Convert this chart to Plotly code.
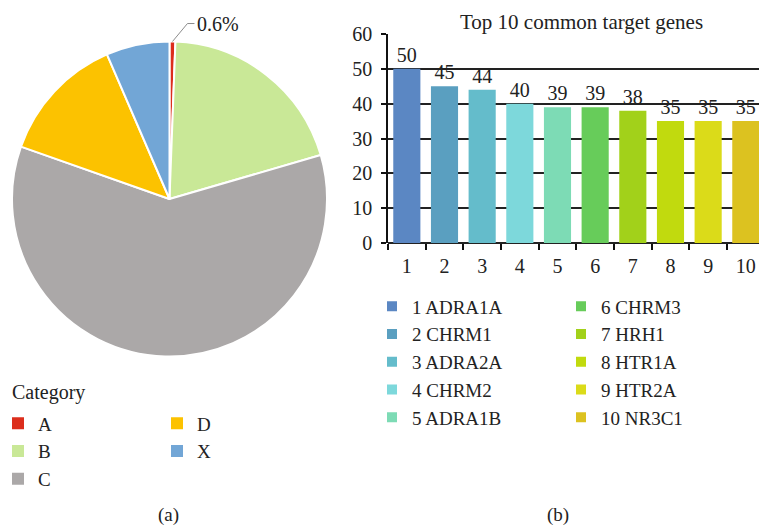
import math
import plotly.graph_objects as go

W, H = 759, 528


def X(px):  # page pixel -> paper fraction
    return px / W


def Y(py):
    return 1 - py / H


# ---- data ----
pie_labels = ["A", "B", "C", "D", "X"]
pie_values = [0.6, 19.9, 59.9, 13.1, 6.5]
pie_colors = ["#DC2E1C", "#C9E897", "#ABA8A8", "#FCC200", "#72A6D6"]

gene_ranks = ["1", "2", "3", "4", "5", "6", "7", "8", "9", "10"]
gene_names = ["ADRA1A", "CHRM1", "ADRA2A", "CHRM2", "ADRA1B",
              "CHRM3", "HRH1", "HTR1A", "HTR2A", "NR3C1"]
gene_counts = [50, 45, 44, 40, 39, 39, 38, 35, 35, 35]
gene_colors = ["#5B87C3", "#5A9FC0", "#64BCCB", "#7DD8DB", "#7DDBB5",
               "#67CC5A", "#A2D11A", "#C1DA0E", "#DBDB19", "#DCC220"]

FONT = "Liberation Serif"
TXT = "#222222"

fig = go.Figure()

# ---- pie ----
pie_px = dict(x0=12, x1=327, y0=41, y1=357)  # pixel box of pie
fig.add_trace(go.Pie(
    labels=pie_labels, values=pie_values, sort=False, direction="clockwise",
    rotation=0, marker=dict(colors=pie_colors, line=dict(color="white", width=2)),
    textinfo="none", showlegend=False, hoverinfo="label+percent",
    domain=dict(x=[X(pie_px["x0"]), X(pie_px["x1"])],
                y=[Y(pie_px["y1"]), Y(pie_px["y0"])]),
))

# label for the smallest slice with leader line
tot = sum(pie_values)
theta = (pie_values[0] / tot / 2) * 2 * math.pi
cx = (pie_px["x0"] + pie_px["x1"]) / 2
cy = (pie_px["y0"] + pie_px["y1"]) / 2
r = (pie_px["x1"] - pie_px["x0"]) / 2
ex, ey = cx + r * math.sin(theta), cy - r * math.cos(theta)
kx, ky = ex + 15, ey - 18
tx = kx + 7
fig.add_shape(type="path", xref="paper", yref="paper",
              path=f"M {X(ex)},{Y(ey)} L {X(kx)},{Y(ky)} L {X(tx)},{Y(ky)}",
              line=dict(color="#8C8C8C", width=1))
fig.add_annotation(x=X(tx + 1), y=Y(ky), xref="paper", yref="paper",
                   xanchor="left", yanchor="middle", showarrow=False,
                   text=f"{pie_values[0]}%", font=dict(family=FONT, size=20, color=TXT))

# ---- bars ----
fig.add_trace(go.Bar(
    x=gene_ranks, y=gene_counts, marker=dict(color=gene_colors, line=dict(width=0)),
    width=0.72, text=[str(v) for v in gene_counts], textposition="outside",
    textfont=dict(family=FONT, size=20, color=TXT), cliponaxis=False,
    showlegend=False, xaxis="x", yaxis="y",
))

# ---- legend entries ----
col1 = [0, 1, 2]
col2 = [3, 4]
for i in col1 + col2:
    fig.add_trace(go.Scatter(
        x=[None], y=[None], mode="markers", name=pie_labels[i],
        marker=dict(symbol="square", size=12, color=pie_colors[i]),
        legend="legend" if i in col1 else "legend2", legendgroup="p" + pie_labels[i],
        xaxis="x", yaxis="y",
    ))
for i in range(10):
    fig.add_trace(go.Scatter(
        x=[None], y=[None], mode="markers", name=f"{gene_ranks[i]} {gene_names[i]}",
        marker=dict(symbol="square", size=10, color=gene_colors[i]),
        legend="legend3" if i < 5 else "legend4", legendgroup="g" + str(i),
        xaxis="x", yaxis="y",
    ))

leg_common = dict(bgcolor="rgba(0,0,0,0)", borderwidth=0, orientation="v",
                  xanchor="left", yanchor="top", itemclick=False, tracegroupgap=0,
                  font=dict(family=FONT, size=19, color=TXT))
SYM = 19  # distance from legend left edge to symbol centre
fig.update_layout(
    legend=dict(x=X(17 - SYM), y=Y(425 - 20.5), **leg_common),
    legend2=dict(x=X(176 - SYM), y=Y(425 - 20.5), **leg_common),
    legend3=dict(x=X(391 - SYM), y=Y(308 - 20.5), **leg_common),
    legend4=dict(x=X(580 - SYM), y=Y(308 - 20.5), **leg_common),
)
fig.add_annotation(x=X(10), y=Y(392), xref="paper", yref="paper", text="Category",
                   showarrow=False, xanchor="left", yanchor="middle",
                   font=dict(family=FONT, size=20, color=TXT))

# ---- axes ----
fig.update_layout(
    xaxis=dict(domain=[X(388), 1.0], type="category", range=[-0.5, 9.35],
               tickson="boundaries", ticks="outside", ticklen=6, tickwidth=1.5,
               tickcolor="#111", showline=False, showgrid=False, zeroline=False,
               tickfont=dict(family=FONT, size=20, color=TXT), ticklabelstandoff=9,
               automargin=False, fixedrange=True),
    yaxis=dict(domain=[Y(243), Y(34)], range=[0, 60], dtick=10,
               ticks="outside", ticklen=5, tickwidth=1.5, tickcolor="#111",
               showline=True, linecolor="#111", linewidth=1.5,
               showgrid=True, gridcolor="#222", gridwidth=1.5, zeroline=True,
               zerolinecolor="#222", zerolinewidth=1.5,
               tickfont=dict(family=FONT, size=20, color=TXT), ticklabelstandoff=5,
               automargin=False, fixedrange=True),
    barmode="overlay",
)

fig.add_annotation(x=X(581), y=Y(22), xref="paper", yref="paper",
                   text="Top 10 common target genes", showarrow=False,
                   xanchor="center", yanchor="middle",
                   font=dict(family=FONT, size=21, color=TXT))
fig.add_annotation(x=X(168), y=Y(515), xref="paper", yref="paper", text="(a)",
                   showarrow=False, xanchor="center", yanchor="middle",
                   font=dict(family=FONT, size=19, color=TXT))
fig.add_annotation(x=X(558), y=Y(515), xref="paper", yref="paper", text="(b)",
                   showarrow=False, xanchor="center", yanchor="middle",
                   font=dict(family=FONT, size=19, color=TXT))

fig.update_layout(
    width=W, height=H, margin=dict(l=0, r=0, t=0, b=0, autoexpand=False),
    paper_bgcolor="white", plot_bgcolor="white",
    font=dict(family=FONT, color=TXT),
)

fig.write_html(
    "out.html",
    config={"displayModeBar": False},
    post_script="document.documentElement.style.overflow='hidden';"
                "document.body.style.margin='0';document.body.style.overflow='hidden';",
)
